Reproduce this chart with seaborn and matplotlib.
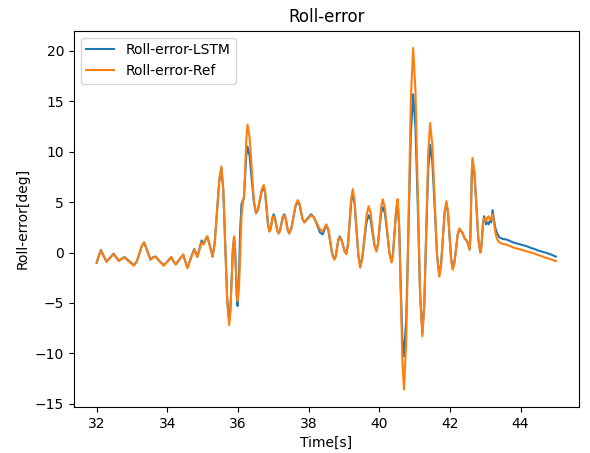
import numpy as np
import pandas as pd
import seaborn as sns
import matplotlib.pyplot as plt

# values (time in s, roll error in deg)
time_s = [32.00, 32.06, 32.12, 32.20, 32.28, 32.38, 32.48, 32.56, 32.63, 32.71,
          32.79, 32.92, 33.05, 33.13, 33.20, 33.27, 33.34, 33.43, 33.52, 33.60,
          33.67, 33.78, 33.90, 34.00, 34.11, 34.18, 34.24, 34.34, 34.45, 34.51,
          34.57, 34.66, 34.76, 34.85, 34.91, 34.97, 35.03, 35.08, 35.13, 35.21,
          35.28,
          35.34, 35.405, 35.47, 35.53, 35.585, 35.64, 35.695, 35.75, 35.785, 35.82,
          35.855, 35.89, 35.915, 35.94, 35.965, 35.99, 36.03, 36.065, 36.10, 36.14,
          36.17, 36.20, 36.235, 36.27, 36.33, 36.39, 36.45, 36.51,
          36.565, 36.62, 36.675, 36.73, 36.77, 36.81, 36.85, 36.89, 36.92, 36.95,
          36.98, 37.01, 37.045, 37.08, 37.115, 37.15, 37.19, 37.23, 37.27, 37.31,
          37.345, 37.38, 37.415, 37.45, 37.51, 37.57, 37.63, 37.69, 37.74, 37.785,
          37.83, 37.88, 37.975, 38.07, 38.15, 38.235, 38.32, 38.40, 38.45, 38.50,
          38.56, 38.615, 38.67, 38.73, 38.77, 38.805, 38.84, 38.88, 38.93, 38.975,
          39.02, 39.07,
          39.115, 39.16, 39.205, 39.25, 39.30, 39.355, 39.41, 39.46, 39.52, 39.58,
          39.64, 39.70, 39.755, 39.81, 39.865, 39.92, 39.965, 40.01, 40.055, 40.10,
          40.16, 40.225, 40.29, 40.35, 40.39, 40.435, 40.48, 40.52, 40.565, 40.61,
          40.655, 40.70, 40.765, 40.83, 40.895, 40.96, 41.025, 41.09, 41.155, 41.22,
          41.275, 41.33, 41.385, 41.44, 41.505, 41.57, 41.635, 41.70, 41.75, 41.80,
          41.85, 41.90, 41.945, 41.99, 42.035, 42.08, 42.125, 42.175, 42.22, 42.27,
          42.35, 42.42, 42.49, 42.56, 42.58, 42.60, 42.62, 42.64, 42.695, 42.75,
          42.805, 42.86, 42.89, 42.915, 42.94,
          42.97, 43.02, 43.06, 43.10, 43.14, 43.17, 43.21, 43.25, 43.29, 43.34,
          43.40, 43.50, 43.60, 43.70, 43.80, 43.90, 44.00, 44.10, 44.20, 44.30,
          44.40, 44.50, 44.60, 44.70, 44.80, 44.90, 45.00]

roll_ref = [-1.0, -0.3, 0.2, -0.4, -0.9, -0.5, -0.15, -0.5, -0.85, -0.6,
            -0.5, -0.9, -1.3, -0.9, -0.2, 0.6, 1.0, 0.2, -0.7, -0.5,
            -0.4, -0.9, -1.3, -0.9, -0.45, -0.9, -1.2, -0.7, -0.2, -0.9,
            -1.55, -0.6, 0.3, -0.45, 0.3, 1.0, 0.8, 1.3, 1.6, 0.6,
            -0.4,
            0.9, 4.1, 7.2, 8.55, 6.25, 0.7, -4.9, -7.2, -5.9, -2.8,
            0.3, 1.6, 0.7, -1.6, -3.9, -4.8, -3.4, 0.1, 3.6, 5.0,
            5.6, 8.0, 11.2, 12.7, 11.4, 8.3, 5.2, 3.9,
            4.3, 5.3, 6.3, 6.7, 6.0, 4.4, 2.8, 2.1, 2.3, 2.85,
            3.4, 3.6, 3.35, 2.75, 2.15, 1.9, 2.15, 2.8, 3.45, 3.7,
            3.45, 2.8, 2.15, 1.9, 2.4, 3.55, 4.7, 5.2, 4.9, 4.1,
            3.3, 3.0, 3.35, 3.7, 3.5, 2.9, 2.3, 2.1, 2.45, 2.8,
            2.3, 1.05, -0.2, -0.7, -0.4, 0.4, 1.2, 1.5, 1.25, 0.7,
            0.1, -0.15,
            0.8, 3.1, 5.35, 6.3, 5.2, 2.4, -0.4, -1.5, -0.6, 1.55,
            3.7, 4.6, 3.95, 2.35, 0.75, 0.1, 0.85, 2.7, 4.55, 5.3,
            4.4, 2.15, -0.1, -1.0, -0.1, 2.15, 4.4, 5.3, 2.55, -4.15,
            -10.85, -13.6, -8.65, 3.35, 15.35, 20.3, 16.1, 6.0, -4.1, -8.3,
            -5.2, 2.3, 9.75, 12.85, 10.6, 5.2, -0.2, -2.4, -1.3, 1.35,
            4.0, 5.1, 4.1, 1.7, -0.7, -1.7, -1.1, 0.35, 1.8, 2.4,
            2.0, 1.4, 1.1, 0.3, 1.6, 4.85, 8.1, 9.4, 8.0, 4.7,
            1.4, 0.0, 0.5, 1.7, 2.9,
            3.4, 3.1, 3.5, 3.6, 3.2, 3.4, 3.8, 3.0, 1.9, 1.3,
            1.0, 0.85, 0.8, 0.65, 0.5, 0.4, 0.3, 0.2, 0.1, 0.0,
            -0.1, -0.25, -0.35, -0.5, -0.6, -0.72, -0.85]

roll_lstm = [-1.0, -0.3, 0.25, -0.35, -0.9, -0.5, -0.1, -0.5, -0.8, -0.6,
             -0.45, -0.85, -1.25, -0.9, -0.2, 0.6, 1.0, 0.2, -0.7, -0.45,
             -0.4, -0.85, -1.25, -0.9, -0.45, -0.9, -1.15, -0.7, -0.2, -0.9,
             -1.5, -0.6, 0.35, -0.4, 0.4, 1.2, 0.9, 1.3, 1.6, 0.6,
             -0.4,
             0.9, 4.0, 7.1, 8.4, 6.1, 0.8, -4.6, -6.8, -5.6, -2.6,
             0.3, 1.5, 0.6, -1.8, -4.3, -5.3, -2.0, 2.5, 4.8, 5.2,
             5.4, 7.5, 9.6, 10.5, 9.6, 7.2, 5.0, 3.9,
             4.2, 5.2, 6.1, 6.5, 5.9, 4.4, 2.8, 2.1, 2.3, 2.9,
             3.5, 3.8, 3.5, 2.8, 2.2, 1.9, 2.2, 2.9, 3.55, 3.8,
             3.5, 2.8, 2.15, 1.9, 2.4, 3.5, 4.6, 5.0, 4.8, 4.0,
             3.3, 3.0, 3.4, 3.8, 3.5, 2.8, 2.0, 1.8, 2.3, 2.7,
             2.2, 1.0, -0.15, -0.6, -0.3, 0.5, 1.3, 1.6, 1.3, 0.7,
             0.15, -0.1,
             0.8, 2.9, 5.0, 5.9, 4.9, 2.3, -0.3, -1.3, -0.5, 1.3,
             3.0, 3.7, 3.3, 2.0, 0.7, 0.2, 0.85, 2.5, 4.0, 4.5,
             3.9, 2.0, -0.1, -0.9, -0.1, 2.1, 4.2, 5.0, 2.5, -3.5,
             -8.5, -10.3, -6.5, 2.8, 11.8, 15.7, 12.5, 4.8, -3.8, -8.0,
             -5.2, 1.8, 8.2, 10.7, 8.9, 4.5, -0.2, -2.2, -1.2, 1.3,
             3.9, 4.9, 4.0, 1.7, -0.6, -1.6, -1.0, 0.35, 1.75, 2.3,
             2.0, 1.4, 1.1, 0.3, 1.5, 4.6, 7.7, 9.0, 7.8, 4.6,
             1.4, 0.0, 0.5, 1.8, 3.0,
             3.6, 2.8, 3.0, 2.8, 3.3, 3.0, 4.2, 3.2, 2.4, 1.9,
             1.5, 1.35, 1.3, 1.15, 1.0, 0.9, 0.8, 0.7, 0.6, 0.45,
             0.35, 0.2, 0.1, 0.0, -0.1, -0.25, -0.4]

df = pd.DataFrame({'Time': time_s, 'LSTM': roll_lstm, 'Ref': roll_ref})

fig = plt.figure(figsize=(5.9, 4.53), dpi=100)
ax = fig.add_axes([0.125, 0.102, 0.856, 0.83])
sns.lineplot(x='Time', y='LSTM', data=df, ax=ax, color='#1f77b4',
             linewidth=1.5, label='Roll-error-LSTM')
sns.lineplot(x='Time', y='Ref', data=df, ax=ax, color='#ff7f0e',
             linewidth=1.5, label='Roll-error-Ref')
ax.set_title('Roll-error')
ax.set_xlabel('Time[s]')
ax.set_ylabel('Roll-error[deg]')
ax.legend(loc='upper left')

plt.savefig('out.png', dpi=100)
plt.close('all')
